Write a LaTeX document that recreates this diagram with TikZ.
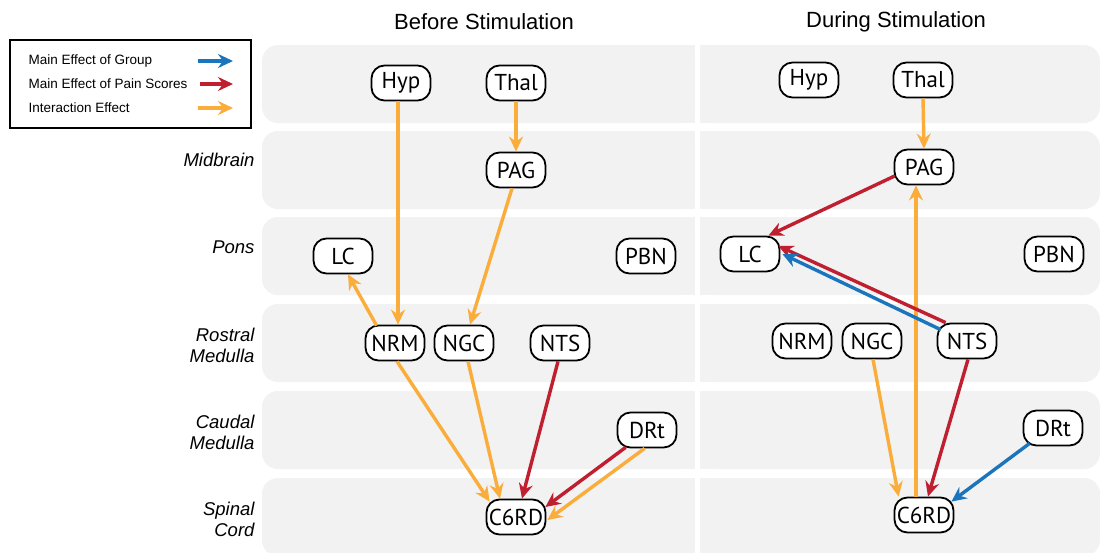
\documentclass[tikz,border=0pt]{standalone}
\usepackage{fontspec}
\setmainfont{Liberation Sans}
\newfontfamily\nodefont{PT Sans}
\usetikzlibrary{arrows.meta,calc}
\definecolor{band}{HTML}{F2F2F2}
\definecolor{eorange}{HTML}{FBAD3B}
\definecolor{ered}{HTML}{C01F2F}
\definecolor{eblue}{HTML}{1A75BC}
\begin{document}
\begin{tikzpicture}[x=1pt,y=-1pt,
  region/.style={draw=black, line width=1.8pt, fill=white, rounded corners=13pt,
    minimum width=59pt, minimum height=35pt, inner sep=0pt,
    font=\nodefont\fontsize{23}{26}\selectfont},
  edge/.style={line width=3.4pt, -{Stealth[length=15pt,width=14pt,inset=5pt]}},
  orangeedge/.style={edge, draw=eorange},
  rededge/.style={edge, draw=ered},
  blueedge/.style={edge, draw=eblue},
  rowlabel/.style={anchor=east, align=right, font=\itshape\fontsize{18.5}{21}\selectfont},
  title/.style={font=\fontsize{22}{26}\selectfont},
  legendtext/.style={anchor=west, font=\fontsize{13.5}{16}\selectfont},
  bandfill/.style={fill=band}
]
\useasboundingbox (0,0) rectangle (1100,552);
\fill[white] (0,0) rectangle (1100,552);
% bands
\foreach \t in {45,131,217,304,391,478}{
  \fill[bandfill, rounded corners=16pt] (262,\t) rectangle (695,\t+78);
  \fill[bandfill] (320,\t) rectangle (695,\t+78);
  \fill[bandfill, rounded corners=16pt] (700,\t) rectangle (1100,\t+78);
  \fill[bandfill] (700,\t) rectangle (1040,\t+78);
}
% titles
\node[title] (tB) at (484,22) {Before Stimulation};
\node[title] (tD) at (896,22) {During Stimulation};
% row labels
\node[rowlabel] (rMid) at (258,160) {Midbrain};
\node[rowlabel] (rPons) at (258,247) {Pons};
\node[rowlabel] (rRM) at (258,345) {Rostral\\Medulla};
\node[rowlabel] (rCM) at (258,432) {Caudal\\Medulla};
\node[rowlabel] (rSC) at (258,519) {Spinal\\Cord};
% legend
\node[draw=black, line width=1.8pt, minimum width=241pt, minimum height=88pt, inner sep=0pt] (legend) at (130.5,84) {};
\node[legendtext] (l1) at (25,61) {Main Effect of Group};
\node[legendtext] (l2) at (25,84) {Main Effect of Pain Scores};
\node[legendtext] (l3) at (25,108) {Interaction Effect};
\coordinate (a1s) at (198,61); \coordinate (a1e) at (233,61);
\coordinate (a2s) at (200,84); \coordinate (a2e) at (233,84);
\coordinate (a3s) at (198,108); \coordinate (a3e) at (233,108);
\draw[blueedge] (a1s) -- (a1e);
\draw[rededge] (a2s) -- (a2e);
\draw[orangeedge] (a3s) -- (a3e);
% left nodes
\node[region] (HypL) at (401,83) {Hyp};
\node[region] (ThalL) at (516,83) {Thal};
\node[region] (PAGL) at (516,170) {PAG};
\node[region] (LCL) at (343,256) {LC};
\node[region] (PBNL) at (646,256) {PBN};
\node[region] (NRML) at (395,343) {NRM};
\node[region] (NGCL) at (464,343) {NGC};
\node[region] (NTSL) at (560,343) {NTS};
\node[region] (DRtL) at (647,430) {DRt};
\node[region] (C6L) at (516,517) {C6RD};
% right nodes
\node[region] (HypR) at (809,80) {Hyp};
\node[region] (ThalR) at (923,80) {Thal};
\node[region] (PAGR) at (924,167) {PAG};
\node[region] (LCR) at (750,254) {LC};
\node[region] (PBNR) at (1054,254) {PBN};
\node[region] (NRMR) at (802,341) {NRM};
\node[region] (NGCR) at (872,341) {NGC};
\node[region] (NTSR) at (967,341) {NTS};
\node[region] (DRtR) at (1053,428) {DRt};
\node[region] (C6R) at (924,515) {C6RD};
% left edges
\draw[orangeedge] ($(HypL.south)+(-3,0)$) -- ($(NRML.north)+(3,0)$);
\draw[orangeedge] (ThalL.south) -- (PAGL.north);
\draw[orangeedge] ($(PAGL.south)+(-4,0)$) -- ($(NGCL.north)+(6,0)$);
\draw[orangeedge] ($(NRML.north west)+(12,1)$) -- ($(LCL.south)+(5,0)$);
\draw[orangeedge] ($(NRML.south)+(2,0)$) -- ($(C6L.north west)+(4,3)$);
\draw[orangeedge] ($(NGCL.south)+(4,0)$) -- ($(C6L.north)+(-16,0)$);
\draw[rededge] ($(NTSL.south)+(-2,0)$) -- ($(C6L.north)+(6,0)$);
\draw[rededge] ($(DRtL.south west)+(9,-1)$) -- ($(C6L.east)+(-1,-10)$);
\draw[orangeedge] ($(DRtL.south west)+(28,0)$) -- ($(C6L.east)+(1,3)$);
% right edges
\draw[orangeedge] (ThalR.south) -- (PAGR.north);
\draw[orangeedge] ($(C6R.north)+(-8,0)$) -- ($(C6R.north |- PAGR.south)+(-8,0)$);
\draw[rededge] ($(PAGR.west)+(1,9)$) -- ($(LCR.north east)+(-12,0)$);
\draw[rededge] ($(NTSR.north west)+(9,0)$) -- ($(LCR.east)+(-2,-8)$);
\draw[blueedge] ($(NTSR.north west)+(4,7)$) -- ($(LCR.east)+(2,0)$);
\draw[orangeedge] ($(NGCR.south)+(1,0)$) -- ($(C6R.north west)+(5,0)$);
\draw[rededge] ($(NTSR.south)+(1,0)$) -- ($(C6R.north)+(4,0)$);
\draw[blueedge] ($(DRtR.south west)+(7,-3)$) -- ($(C6R.north east)+(-3,5)$);
\end{tikzpicture}
\end{document}
